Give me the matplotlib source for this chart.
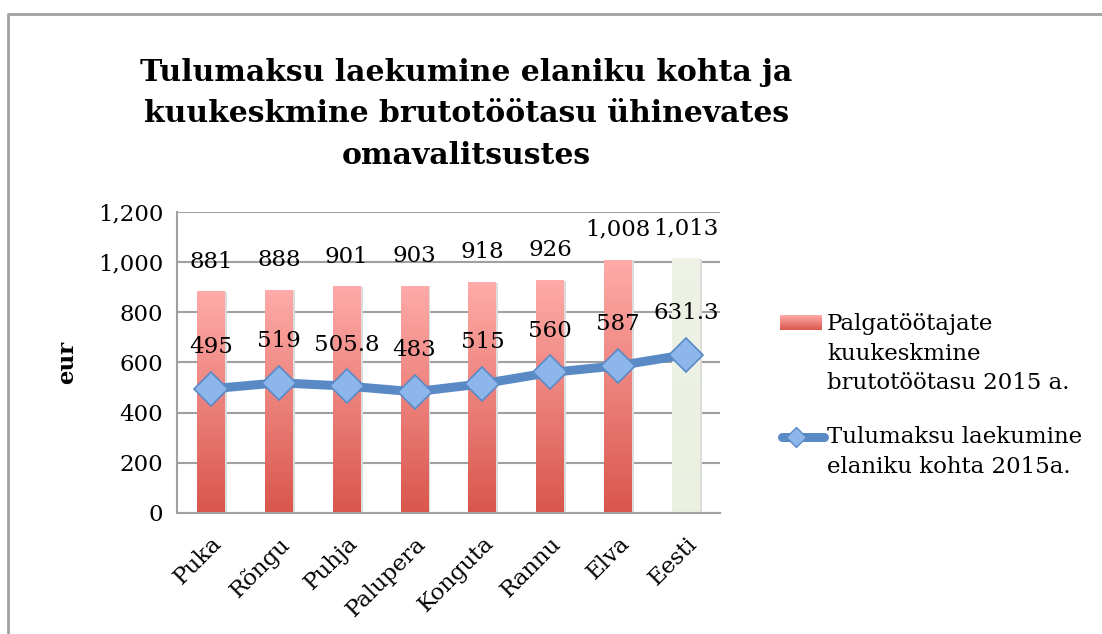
import numpy as np
import matplotlib.pyplot as plt
from matplotlib.lines import Line2D
from matplotlib.patches import Rectangle

plt.rcParams['font.family'] = ['DejaVu Serif']

places = ['Puka', 'Rõngu', 'Puhja', 'Palupera', 'Konguta', 'Rannu', 'Elva', 'Eesti']
salary = [881, 888, 901, 903, 918, 926, 1008, 1013]
tax = [495, 519, 505.8, 483, 515, 560, 587, 631.3]
tax_labels = ['495', '519', '505.8', '483', '515', '560', '587', '631.3']

title = 'Tulumaksu laekumine elaniku kohta ja\nkuukeskmine brutotöötasu ühinevates\nomavalitsustes'
bar_name = 'Palgatöötajate\nkuukeskmine\nbrutotöötasu 2015 a.'
line_name = 'Tulumaksu laekumine\nelaniku kohta 2015a.'

LINE_C = '#5a8ac6'
RED_TOP = np.array([1.0, 0.67, 0.66])
RED_BOT = np.array([0.85, 0.34, 0.30])
GREY_TOP = np.array([0.93, 0.95, 0.90])
GREY_BOT = np.array([0.92, 0.94, 0.88])
FS = 16.5


def gradient(top, bot, n=100):
    t = np.linspace(0, 1, n)[:, None]
    return (top * (1 - t) + bot * t)[:, None, :]


fig = plt.figure(figsize=(11.02, 6.34), dpi=100)
ax = fig.add_axes([0.1606, 0.1909, 0.4927, 0.4748])

x = np.arange(len(places))
w = 0.41
for i, v in enumerate(salary):
    top, bot = (GREY_TOP, GREY_BOT) if places[i] == 'Eesti' else (RED_TOP, RED_BOT)
    # faint shadow on the right side
    ax.add_patch(Rectangle((x[i] - w / 2 + 0.03, 0), w, v, color='#dcdcdc', zorder=1.5, lw=0))
    ax.imshow(gradient(top, bot), extent=[x[i] - w / 2, x[i] + w / 2, 0, v],
              aspect='auto', zorder=2, interpolation='bilinear')
    ax.annotate('{:,}'.format(v), (x[i], v), xytext=(0, 14), textcoords='offset points',
                ha='center', va='bottom', fontsize=FS)

ax.plot(x, tax, color=LINE_C, lw=6.5, solid_capstyle='round', zorder=3,
        marker='D', markersize=17, markerfacecolor='#8db6ea', markeredgecolor=LINE_C,
        markeredgewidth=1.2)
for i, v in enumerate(tax):
    ax.annotate(tax_labels[i], (x[i], v), xytext=(0, 22), textcoords='offset points',
                ha='center', va='bottom', fontsize=FS)

ax.set_xlim(-0.5, len(places) - 0.5)
ax.set_ylim(0, 1200)
ax.set_yticks(range(0, 1201, 200))
ax.set_yticklabels(['{:,}'.format(t) for t in range(0, 1201, 200)], fontsize=FS)
ax.set_xticks(x)
ax.set_xticklabels(places, fontsize=FS, rotation=45, ha='right', rotation_mode='anchor')
ax.tick_params(length=0, pad=10)
ax.tick_params(axis='x', pad=14)
ax.grid(axis='y', color='#a0a0a0', lw=1.5)
ax.set_axisbelow(True)
for s in ['top', 'right']:
    ax.spines[s].set_visible(False)
for s in ['left', 'bottom']:
    ax.spines[s].set_color('#a0a0a0')
    ax.spines[s].set_linewidth(1.5)
ax.set_ylabel('eur', fontsize=FS, fontweight='bold', labelpad=14)

fig.text(0.423, 0.909, title, ha='center', va='top', fontsize=21.5, fontweight='bold',
         linespacing=1.55)

# legend drawn by hand so the handle sits on the first line of the label
lax = fig.add_axes([780 / 1102, 1 - 330 / 634, 42 / 1102, 15 / 634])
lax.imshow(gradient(RED_TOP, RED_BOT), aspect='auto', extent=[0, 1, 0, 1])
lax.axis('off')
fig.add_artist(Line2D([782 / 1102, 824 / 1102], [1 - 437 / 634] * 2, color=LINE_C, lw=6.5,
                      solid_capstyle='round', transform=fig.transFigure))
fig.add_artist(Line2D([796 / 1102], [1 - 437 / 634], marker='D', markersize=10,
                      markerfacecolor='#8db6ea', markeredgecolor=LINE_C,
                      transform=fig.transFigure))
fig.text(827 / 1102, 1 - 313 / 634, bar_name, ha='left', va='top', fontsize=FS, linespacing=1.45)
fig.text(827 / 1102, 1 - 426 / 634, line_name, ha='left', va='top', fontsize=FS, linespacing=1.45)

# outer chart frame
fig.add_artist(Line2D([8 / 1102, 8 / 1102, 1.0], [0.0, 1 - 14 / 634, 1 - 14 / 634],
                      color='#a0a0a0', lw=2, transform=fig.transFigure))

fig.savefig('out.png', dpi=100)
